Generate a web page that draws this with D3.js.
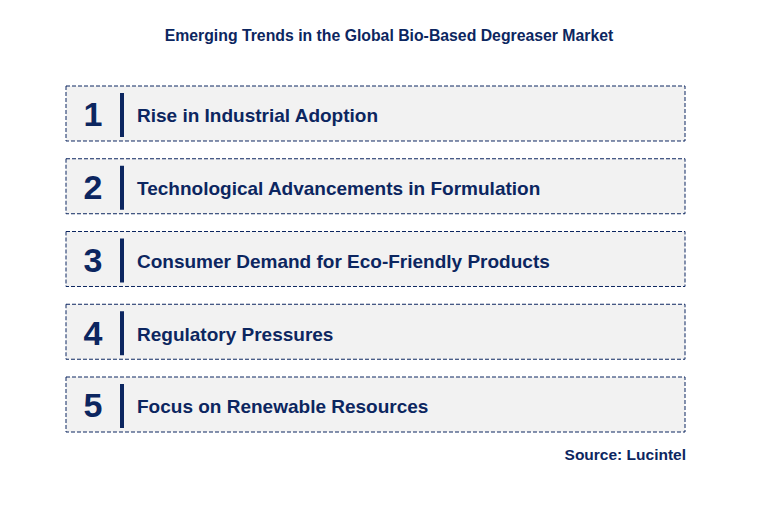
<!DOCTYPE html>
<html><head><meta charset="utf-8">
<script src="https://cdn.jsdelivr.net/npm/d3@7"></script>
<style>body{margin:0;background:#fff}</style>
</head><body><div id="chart"></div>
<script>
const ranks = ['1','2','3','4','5']
const trends = ['Rise in Industrial Adoption','Technological Advancements in Formulation',
  'Consumer Demand for Eco-Friendly Products','Regulatory Pressures','Focus on Renewable Resources']
const title = 'Emerging Trends in the Global Bio-Based Degreaser Market'
const source = 'Source: Lucintel'

const W = 776, H = 507, navy = '#0c2660'
const svg = d3.select('#chart').append('svg').attr('width', W).attr('height', H)
  .style('font-family', 'Liberation Sans, Arial, sans-serif')

svg.append('text').attr('x', 389).attr('y', 41).attr('text-anchor', 'middle')
  .attr('font-size', 15.8).attr('font-weight', 'bold').attr('fill', navy).text(title)

const y = d3.scaleBand().domain(ranks).range([86, 432]).paddingInner(0.244).paddingOuter(0)
const x0 = 66, x1 = 685

const g = svg.selectAll('.item').data(ranks).join('g').attr('class', 'item')
  .attr('transform', d => `translate(0,${y(d)})`)

g.append('rect').attr('x', x0).attr('y', 0).attr('width', x1 - x0).attr('height', y.bandwidth())
  .attr('fill', '#f2f2f2').attr('stroke', navy).attr('stroke-width', 1).attr('stroke-dasharray', '4,2')

g.append('text').attr('x', 93).attr('y', y.bandwidth() / 2 + 13).attr('text-anchor', 'middle')
  .attr('font-size', 34).attr('font-weight', 'bold').attr('fill', navy).text(d => d)

g.append('line').attr('x1', 122).attr('x2', 122).attr('y1', 7).attr('y2', y.bandwidth() - 4)
  .attr('stroke', navy).attr('stroke-width', 4)

g.append('text').attr('x', 137).attr('y', y.bandwidth() / 2 + 9)
  .attr('font-size', 19).attr('font-weight', 'bold').attr('fill', navy)
  .text((d, i) => trends[i])

svg.append('text').attr('x', 686).attr('y', 460).attr('text-anchor', 'end')
  .attr('font-size', 15.5).attr('font-weight', 'bold').attr('fill', navy).text(source)
</script></body></html>
